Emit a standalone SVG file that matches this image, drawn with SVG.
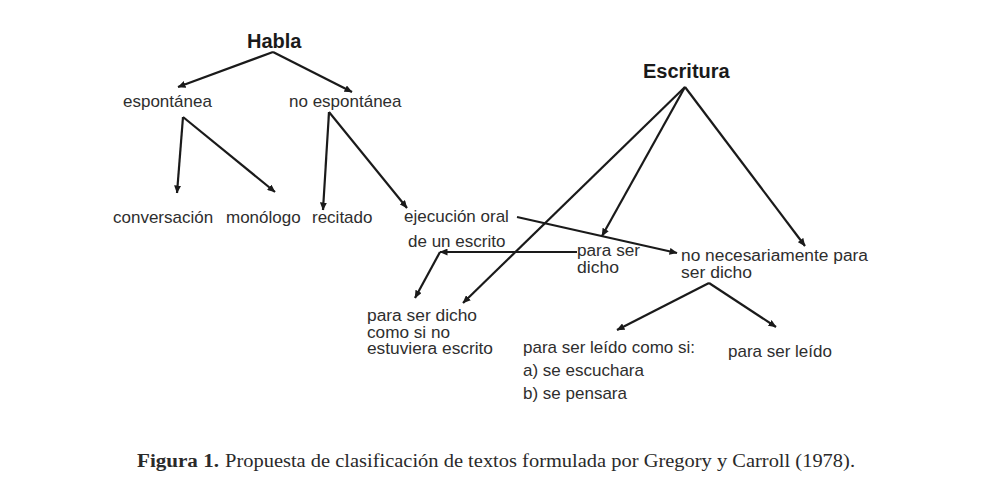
<svg xmlns="http://www.w3.org/2000/svg" width="994" height="487" viewBox="0 0 994 487">
<defs>
<marker id="arr" markerUnits="userSpaceOnUse" markerWidth="8" markerHeight="7" refX="7.5" refY="3.5" orient="auto">
<path d="M0,0 L8,3.5 L0,7 z" fill="#1a1a1a"/>
</marker>
<style>
.t{font-family:"Liberation Sans",Arial,sans-serif;font-size:17px;fill:#2e2e2e}
.s{font-family:"Liberation Sans",Arial,sans-serif;font-size:16px;fill:#2e2e2e}
.h{font-family:"Liberation Sans",Arial,sans-serif;font-size:20px;font-weight:bold;fill:#1a1a1a}
.c{font-family:"Liberation Serif","Times New Roman",serif;font-size:18px;fill:#2a2a2a}
.e line{stroke:#1a1a1a;stroke-width:2.2;marker-end:url(#arr)}
</style>
</defs>
<rect width="994" height="487" fill="#ffffff"/>
<g id="connectors" class="e">
<line x1="273" y1="52" x2="178" y2="87"/>
<line x1="273" y1="52" x2="352" y2="92"/>
<line x1="183" y1="117" x2="177" y2="193"/>
<line x1="183" y1="117" x2="275" y2="192"/>
<line x1="329" y1="112" x2="323" y2="210"/>
<line x1="329" y1="112" x2="407" y2="208"/>
<line x1="685" y1="87" x2="463" y2="303"/>
<line x1="685" y1="87" x2="602" y2="236"/>
<line x1="685" y1="87" x2="805" y2="246"/>
<line x1="517" y1="217" x2="677" y2="253"/>
<line x1="577" y1="252" x2="440" y2="252"/>
<line x1="440" y1="252" x2="415" y2="298"/>
<line x1="709" y1="283" x2="617" y2="330"/>
<line x1="709" y1="283" x2="776" y2="327"/>
</g>
<g id="habla"><text class="h" x="247" y="48">Habla</text></g>
<g id="espontanea"><text class="t" x="123" y="107">espontánea</text></g>
<g id="no-espontanea"><text class="t" x="289" y="107">no espontánea</text></g>
<g id="conversacion"><text class="t" x="113" y="223">conversación</text></g>
<g id="monologo"><text class="t" x="226" y="223">monólogo</text></g>
<g id="recitado"><text class="t" x="312" y="223">recitado</text></g>
<g id="ejecucion"><text class="t" x="404" y="222">ejecución oral</text><text class="t" x="408" y="247">de un escrito</text></g>
<g id="escritura"><text class="h" x="643" y="78">Escritura</text></g>
<g id="para-ser-dicho"><text class="s" x="577" y="256" textLength="63" lengthAdjust="spacingAndGlyphs">para ser</text><text class="s" x="577" y="273" textLength="42" lengthAdjust="spacingAndGlyphs">dicho</text></g>
<g id="no-necesariamente"><text class="s" x="681" y="261" textLength="187" lengthAdjust="spacingAndGlyphs">no necesariamente para</text><text class="s" x="681" y="278" textLength="71" lengthAdjust="spacingAndGlyphs">ser dicho</text></g>
<g id="como-si-no-escrito"><text class="s" x="367" y="321" textLength="110" lengthAdjust="spacingAndGlyphs">para ser dicho</text><text class="s" x="367" y="337.5" textLength="83" lengthAdjust="spacingAndGlyphs">como si no</text><text class="s" x="367" y="354" textLength="126" lengthAdjust="spacingAndGlyphs">estuviera escrito</text></g>
<g id="leido-como-si"><text class="t" x="523" y="353">para ser leído como si:</text><text class="t" x="523" y="376">a) se escuchara</text><text class="t" x="523" y="399">b) se pensara</text></g>
<g id="para-ser-leido"><text class="t" x="728" y="357">para ser leído</text></g>
<g id="caption">
<text class="c" x="137" y="467" font-weight="bold" textLength="82" lengthAdjust="spacingAndGlyphs">Figura 1.</text>
<text class="c" x="225" y="467" textLength="630" lengthAdjust="spacingAndGlyphs">Propuesta de clasificación de textos formulada por Gregory y Carroll (1978).</text>
</g>
</svg>
